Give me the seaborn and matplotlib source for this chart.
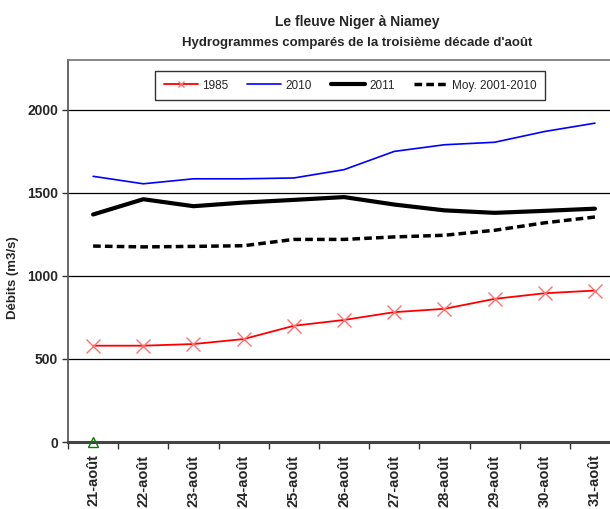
import matplotlib
matplotlib.use("Agg")
import matplotlib.pyplot as plt
import numpy as np
import seaborn as sns

days = ["21-août", "22-août", "23-août", "24-août", "25-août", "26-août",
        "27-août", "28-août", "29-août", "30-août", "31-août"]
q_1985 = [580, 580, 590, 620, 700, 735, 782, 802, 862, 896, 912]
q_2010 = [1600, 1555, 1585, 1585, 1590, 1640, 1750, 1790, 1805, 1870, 1920]
q_2011 = [1370, 1462, 1420, 1442, 1458, 1475, 1430, 1395, 1380, 1392, 1405]
q_moy = [1180, 1175, 1178, 1182, 1220, 1220, 1235, 1245, 1275, 1320, 1355]
q_marker = [0]

sns.set_theme(style="white")
plt.rcParams["font.family"] = ["Liberation Sans Narrow", "Liberation Sans", "DejaVu Sans"]

pos = np.arange(len(days))

fig = plt.figure(figsize=(6.1, 5.09), dpi=100)
ax = fig.add_axes([0.1115, 0.1316, 0.905, 0.7504])

sns.lineplot(x=pos, y=q_1985, ax=ax, color="#FF0000", lw=1.3, label="1985",
             marker="x", markersize=10, markeredgecolor="#FF7070",
             markeredgewidth=1.0)
sns.lineplot(x=pos, y=q_2010, ax=ax, color="#0000FF", lw=1.2, label="2010")
sns.lineplot(x=pos, y=q_2011, ax=ax, color="black", lw=3, label="2011")
sns.lineplot(x=pos, y=q_moy, ax=ax, color="black", lw=2.5, label="Moy. 2001-2010",
             linestyle=(0, (2.2, 1.2)))
ax.plot(pos[:1], q_marker, marker="^", markersize=7, markerfacecolor="none",
        markeredgecolor="#008000", linestyle="none", clip_on=False, zorder=5)

ax.set_xlim(-0.5, len(days) - 0.5)
ax.set_ylim(0, 2300)
ax.set_yticks([0, 500, 1000, 1500, 2000])
ax.yaxis.grid(True, color="black", lw=0.9)
ax.set_axisbelow(True)

ax.set_xticks(pos)
ax.set_xticklabels(days, rotation=90, fontsize=10.5, fontweight="bold")
ax.set_xticks(np.arange(-0.5, len(days), 1), minor=True)
ax.tick_params(axis="x", which="major", length=0, pad=9)
ax.tick_params(axis="x", which="minor", length=5, width=1, color="#333333",
               direction="out", bottom=True)
ax.tick_params(axis="y", length=4, width=1, color="#333333", direction="out",
               left=True, labelsize=10, pad=3)
for lbl in ax.get_yticklabels():
    lbl.set_fontweight("bold")

ax.spines["left"].set_color("#555555")
ax.spines["top"].set_color("#777777")
ax.spines["right"].set_visible(False)
ax.spines["bottom"].set_color("#444444")
ax.spines["bottom"].set_linewidth(2.2)

ax.set_ylabel("Débits (m3/s)", fontsize=9.5, fontweight="bold")
ax.yaxis.set_label_coords(-0.088, 0.43)
ax.set_xlabel("")

leg = ax.legend(loc="center", bbox_to_anchor=(0.574, 0.832),
                bbox_transform=fig.transFigure, ncol=4, fontsize=8.5,
                frameon=True, fancybox=False, borderpad=0.75, borderaxespad=0,
                columnspacing=1.6, handlelength=2.9, handletextpad=0.35,
                markerscale=0.5)
leg.get_frame().set_edgecolor("black")
leg.get_frame().set_linewidth(1.0)

fig.text(0.585, 0.956, "Le fleuve Niger à Niamey", ha="center", va="center",
         fontsize=10, fontweight="bold")
fig.text(0.585, 0.915, "Hydrogrammes comparés de la troisième décade d'août",
         ha="center", va="center", fontsize=9.5, fontweight="bold")

fig.savefig("out.png", dpi=100)
